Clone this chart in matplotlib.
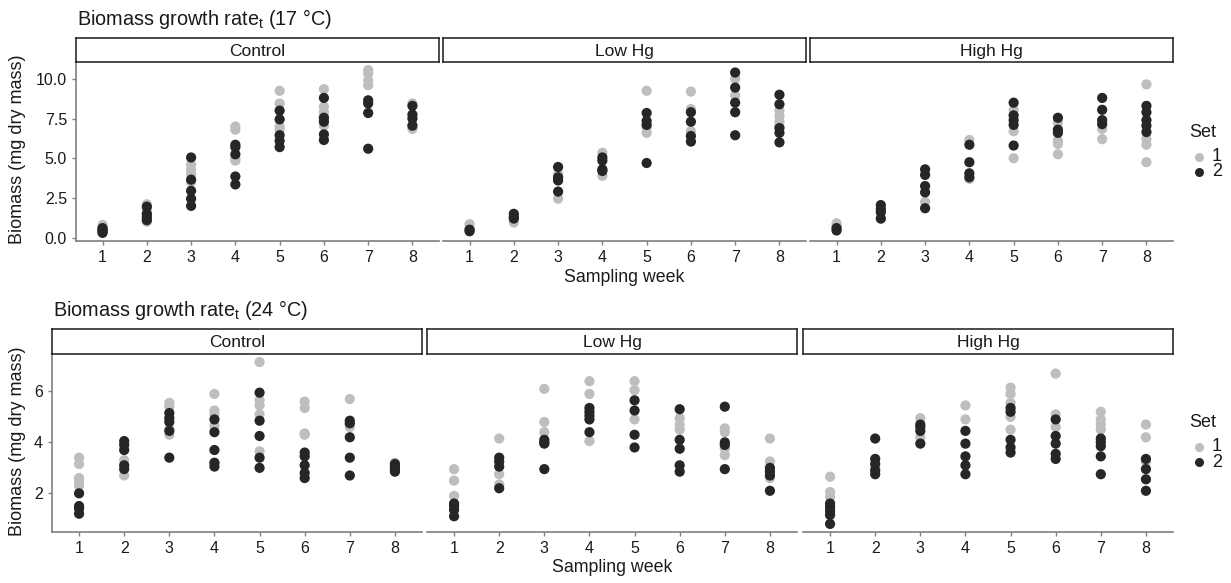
import numpy as np
import matplotlib
matplotlib.use("Agg")
import matplotlib.pyplot as plt
from matplotlib.lines import Line2D

plt.rcParams['font.family'] = ['Liberation Sans', 'DejaVu Sans']

# ========= DATOS (biomasa por semana, un sublista por semana 1..8) ==========
weeks = [1, 2, 3, 4, 5, 6, 7, 8]
treatments = ["Control", "Low Hg", "High Hg"]
sets = ["1", "2"]

t17_control_set1 = [[0.8, 0.65, 0.5, 0.4], [2.1, 1.8, 1.5, 1.2, 1.0], [4.6, 4.3, 4.0, 3.5],
                    [7.0, 6.8, 5.0, 4.85], [9.25, 8.45, 7.0, 6.8], [9.35, 8.25, 7.9, 7.6, 7.05],
                    [10.55, 10.35, 9.9, 9.6], [8.45, 7.1, 6.85]]
t17_control_set2 = [[0.6, 0.5, 0.4, 0.3], [1.95, 1.5, 1.3, 1.1], [5.05, 3.65, 2.95, 2.45, 2.0],
                    [5.85, 5.7, 5.25, 3.85, 3.35], [8.0, 7.45, 6.45, 6.1, 5.7], [8.8, 7.55, 7.3, 6.5, 6.15],
                    [8.65, 8.45, 7.85, 5.6], [8.3, 7.75, 7.5, 7.05]]
t17_low_set1 = [[0.85, 0.6], [1.25, 0.95], [4.0, 3.85, 2.45], [5.35, 3.9], [9.25, 6.95, 6.6],
                [9.2, 8.1, 6.7], [10.0, 8.95], [8.0, 7.65, 7.3, 7.0]]
t17_low_set2 = [[0.5, 0.4], [1.5, 1.3, 1.2], [4.45, 3.8, 3.6, 2.9], [5.05, 4.85, 4.3, 4.2],
                [7.85, 7.35, 7.1, 4.7], [7.9, 7.3, 6.4, 6.05], [10.4, 9.45, 8.5, 7.9, 6.45],
                [9.0, 8.4, 6.9, 6.6, 6.0]]
t17_high_set1 = [[0.9, 0.7], [1.2], [2.25], [6.15, 3.7], [8.05, 6.7, 5.0], [7.25, 6.1, 5.9, 5.25],
                 [6.85, 6.2], [9.65, 6.2, 5.85, 4.75]]
t17_high_set2 = [[0.6, 0.45], [2.05, 1.8, 1.6, 1.2], [4.3, 3.95, 3.25, 2.85, 1.85],
                 [5.85, 4.75, 4.05, 3.8], [8.5, 7.7, 7.4, 7.1, 5.8], [7.55, 6.8, 6.6],
                 [8.8, 8.05, 7.4, 7.15], [8.3, 7.9, 7.4, 7.05, 6.65]]

t24_control_set1 = [[3.4, 3.15, 2.6, 2.45, 2.3], [3.3, 2.7], [5.55, 5.4, 4.5, 4.3],
                    [5.9, 5.25, 5.1, 4.65, 3.2], [7.15, 5.65, 5.45, 5.1, 3.65], [5.6, 5.35, 4.35, 4.3],
                    [5.7, 4.7, 4.6], [3.2, 2.9]]
t24_control_set2 = [[2.0, 1.5, 1.4, 1.2], [4.05, 3.9, 3.7, 3.1, 2.95], [5.15, 4.95, 4.8, 4.45, 3.4],
                    [4.9, 4.4, 3.7, 3.2, 3.05], [5.95, 4.85, 4.25, 3.4, 3.0], [3.6, 3.45, 3.1, 2.8, 2.6],
                    [4.85, 4.75, 4.2, 3.4, 2.7], [3.15, 3.05, 2.95, 2.85]]
t24_low_set1 = [[2.95, 2.5, 1.9], [4.15, 2.75, 2.35], [6.1, 4.8, 4.4], [6.4, 5.9, 4.05],
                [6.4, 6.05, 4.9], [4.95, 4.7, 4.5], [4.55, 4.4, 3.75, 3.5], [4.15, 3.25, 2.6]]
t24_low_set2 = [[1.6, 1.5, 1.35, 1.1], [3.4, 3.25, 3.05, 2.2], [4.1, 4.0, 3.95, 2.95],
                [5.35, 5.2, 5.05, 4.9, 4.4], [5.65, 5.25, 4.3, 3.8], [5.3, 4.1, 3.75, 3.1, 2.85],
                [5.4, 4.0, 3.9, 2.95], [3.0, 2.85, 2.7, 2.1]]
t24_high_set1 = [[2.65, 2.05, 1.85], [3.0], [4.95, 4.2], [5.45, 4.9], [6.15, 5.9, 5.55, 5.0, 4.5],
                 [6.7, 5.1, 4.6], [5.2, 4.9, 4.7, 4.5], [4.7, 4.2, 3.25]]
t24_high_set2 = [[1.6, 1.45, 1.3, 1.15, 0.8], [4.15, 3.35, 3.15, 2.9, 2.75], [4.7, 4.6, 4.45, 3.95],
                 [4.45, 3.95, 3.45, 3.1, 2.75], [5.35, 5.2, 4.1, 3.8, 3.6], [4.9, 4.25, 3.95, 3.55, 3.35],
                 [4.15, 4.0, 3.85, 3.45, 2.75], [3.35, 2.95, 2.55, 2.1]]

titulos = ["Biomass growth rate$_\\mathregular{t}$ (17 °C)", "Biomass growth rate$_\\mathregular{t}$ (24 °C)"]
yticks_17 = [0.0, 2.5, 5.0, 7.5, 10.0]
yticks_24 = [2, 4, 6]
# ==================================

COLOR_SET = {"1": "#bebebe", "2": "#262626"}
W, H = 1231, 583


def caja(x0, y0, x1, y1):
    # pixeles (origen arriba-izquierda) -> fraccion de figura
    return [x0 / W, 1 - y1 / H, (x1 - x0) / W, (y1 - y0) / H]


def expand(datos):
    todos = [v for panel in datos for s in panel for sem in s for v in sem]
    lo, hi = min(todos), max(todos)
    pad = 0.05 * (hi - lo)
    return lo - pad, hi + pad


def leyenda(fig, y_titulo, ys):
    fig.text(1189 / W, 1 - y_titulo / H, "Set", fontsize=13, ha='left', va='center', color="#1a1a1a")
    for s, y in zip(sets, ys):
        fig.add_artist(Line2D([1199 / W], [1 - y / H], marker='o', linestyle='none', markersize=6.5,
                              markeredgewidth=0, color=COLOR_SET[s], transform=fig.transFigure))
        fig.text(1212 / W, 1 - y / H, s, fontsize=13, ha='left', va='center', color="#1a1a1a")


def dibujar_fila(fig, datos, paneles_x, y_strip, y_plot, yticks, yfmt, titulo, title_pos, xlab_y):
    ylim = expand(datos)
    for i, (nombre, (s1, s2)) in enumerate(zip(treatments, datos)):
        x0, x1 = paneles_x[i]
        ax = fig.add_axes(caja(x0, y_plot[0], x1, y_plot[1]))
        for etiqueta, serie in zip(sets, (s1, s2)):
            xs = [w for w, sem in zip(weeks, serie) for _ in sem]
            ys = [v for sem in serie for v in sem]
            ax.scatter(xs, ys, s=54, color=COLOR_SET[etiqueta], edgecolors='none', zorder=3)
        ax.set_xlim(0.4, 8.6)
        ax.set_ylim(*ylim)
        ax.set_xticks(weeks)
        ax.set_yticks(yticks)
        ax.set_yticklabels([yfmt.format(t) for t in yticks])
        for lado in ["top", "right"]:
            ax.spines[lado].set_visible(False)
        ax.spines["bottom"].set_color("#7f7f7f")
        ax.spines["left"].set_color("#7f7f7f")
        ax.spines["bottom"].set_linewidth(1.2)
        ax.spines["left"].set_linewidth(1.2)
        ax.tick_params(labelsize=11.5, colors="#7f7f7f", labelcolor="#1a1a1a", length=3, width=1)
        if i > 0:
            ax.spines["left"].set_visible(False)
            ax.tick_params(axis='y', left=False, labelleft=False)

        st = fig.add_axes(caja(x0, y_strip[0], x1, y_strip[1]))
        st.set_xticks([])
        st.set_yticks([])
        for sp in st.spines.values():
            sp.set_linewidth(1.1)
            sp.set_color("#1a1a1a")
        st.text(0.5, 0.45, nombre, ha='center', va='center', fontsize=12.5, color="#1a1a1a",
                transform=st.transAxes)

    fig.text(title_pos[0] / W, 1 - title_pos[1] / H, titulo, fontsize=14.3, ha='left', va='baseline',
             color="#1a1a1a")
    centro_x = (paneles_x[0][0] + paneles_x[-1][1]) / 2
    fig.text(centro_x / W, 1 - xlab_y / H, "Sampling week", fontsize=12.8, ha='center', va='center',
             color="#1a1a1a")
    fig.text(18 / W, 1 - ((y_plot[0] + y_plot[1]) / 2 - 2) / H, "Biomass (mg dry mass)", fontsize=13,
             rotation=90, ha='center', va='center', color="#1a1a1a")


def main():
    fig = plt.figure(figsize=(W / 100, H / 100), dpi=100)
    datos17 = [(t17_control_set1, t17_control_set2), (t17_low_set1, t17_low_set2),
               (t17_high_set1, t17_high_set2)]
    datos24 = [(t24_control_set1, t24_control_set2), (t24_low_set1, t24_low_set2),
               (t24_high_set1, t24_high_set2)]
    dibujar_fila(fig, datos17, [(76, 439), (443, 806), (810, 1173)], (38, 62), (62, 241),
                 yticks_17, "{:.1f}", titulos[0], (77, 25), 277)
    dibujar_fila(fig, datos24, [(52, 422), (427, 797), (803, 1173)], (329, 354), (354, 532),
                 yticks_24, "{:.0f}", titulos[1], (53, 316), 567)
    leyenda(fig, 132.7, [156.7, 172])
    leyenda(fig, 422.7, [446.7, 462.3])
    fig.savefig("out.png", dpi=100, facecolor="white")
    plt.close(fig)


if __name__ == "__main__":
    main()
